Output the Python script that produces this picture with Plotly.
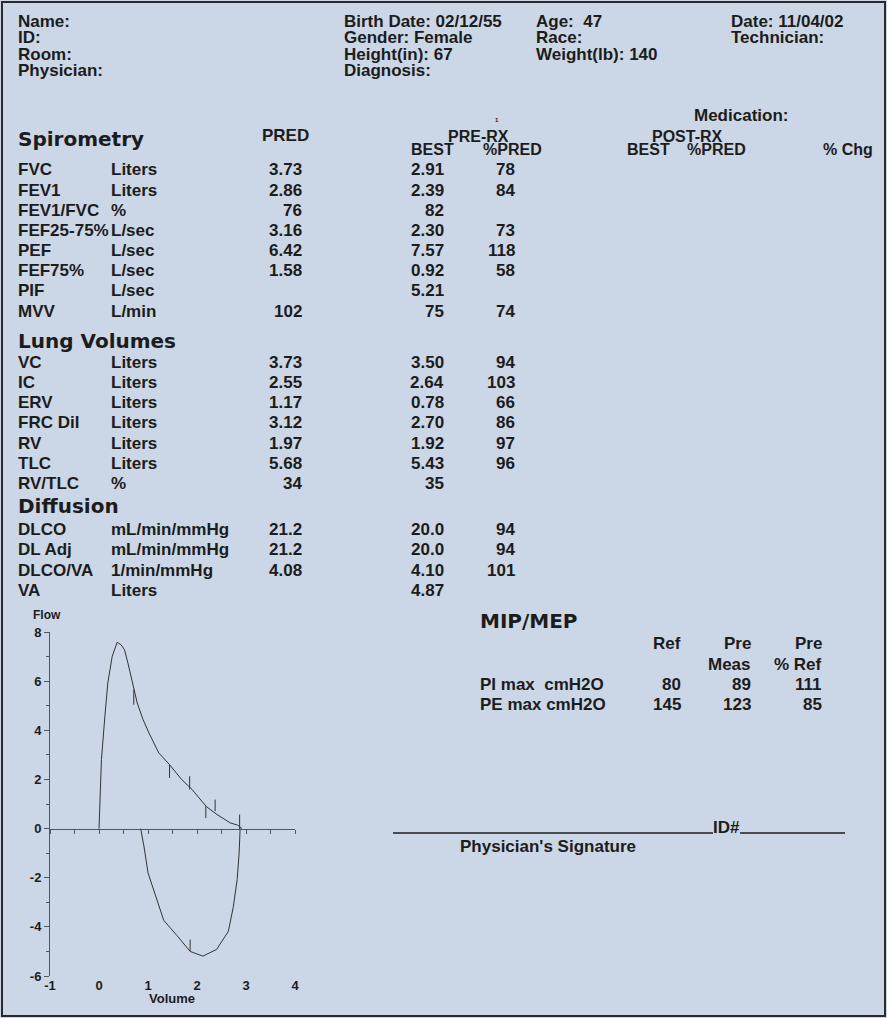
import plotly.graph_objects as go

# ── Page / style ──────────────────────────────────────────────────────────────
W, H = 887, 1018
BG = "#CBD7E6"
INK = "#1C1C1C"
AXIS = "#555555"
BODY = "Liberation Sans, Arial, sans-serif"
HEAVY = "DejaVu Sans, sans-serif"
NB = "\u00a0"
FS = 17  # body text size

# ── Patient header ────────────────────────────────────────────────────────────
hdr_col1 = ["Name:", "ID:", "Room:", "Physician:"]
hdr_col2 = ["Birth Date: 02/12/55", "Gender: Female", "Height(in): 67", "Diagnosis:"]
hdr_col3 = ["Age:" + NB + NB + "47", "Race:", "Weight(lb): 140"]
hdr_col4 = ["Date: 11/04/02", "Technician:"]

# ── Results table ─────────────────────────────────────────────────────────────
spiro_params = ["FVC", "FEV1", "FEV1/FVC", "FEF25-75%", "PEF", "FEF75%", "PIF", "MVV"]
spiro_units = ["Liters", "Liters", "%", "L/sec", "L/sec", "L/sec", "L/sec", "L/min"]
spiro_pred = ["3.73", "2.86", "76", "3.16", "6.42", "1.58", "", "102"]
spiro_best = ["2.91", "2.39", "82", "2.30", "7.57", "0.92", "5.21", "75"]
spiro_pct = ["78", "84", "", "73", "118", "58", "", "74"]

lung_params = ["VC", "IC", "ERV", "FRC Dil", "RV", "TLC", "RV/TLC"]
lung_units = ["Liters", "Liters", "Liters", "Liters", "Liters", "Liters", "%"]
lung_pred = ["3.73", "2.55", "1.17", "3.12", "1.97", "5.68", "34"]
lung_best = ["3.50", "2.64", "0.78", "2.70", "1.92", "5.43", "35"]
lung_pct = ["94", "103", "66", "86", "97", "96", ""]

diff_params = ["DLCO", "DL Adj", "DLCO/VA", "VA"]
diff_units = ["mL/min/mmHg", "mL/min/mmHg", "1/min/mmHg", "Liters"]
diff_pred = ["21.2", "21.2", "4.08", ""]
diff_best = ["20.0", "20.0", "4.10", "4.87"]
diff_pct = ["94", "94", "101", ""]

# ── MIP / MEP ─────────────────────────────────────────────────────────────────
mip_params = ["PI max" + NB + NB + "cmH2O", "PE max cmH2O"]
mip_ref = ["80", "145"]
mip_meas = ["89", "123"]
mip_pct = ["111", "85"]

# ── Flow-volume loop (L, L/sec) ───────────────────────────────────────────────
exp_vol = [0.00, 0.02, 0.05, 0.12, 0.18, 0.27, 0.37, 0.45, 0.52, 0.59, 0.68, 0.78,
           0.90, 1.02, 1.22, 1.44, 1.69, 1.90, 2.10, 2.20, 2.41, 2.68, 2.83, 2.92]
exp_flow = [0.00, 1.18, 2.81, 4.57, 5.93, 7.01, 7.58, 7.48, 7.28, 6.74, 5.93, 5.11,
            4.43, 3.89, 3.08, 2.60, 1.99, 1.59, 1.11, 0.88, 0.57, 0.23, 0.14, 0.00]
insp_vol = [0.85, 0.88, 0.92, 1.00, 1.10, 1.19, 1.32, 1.59, 1.86, 2.12, 2.40, 2.64,
            2.74, 2.82, 2.86, 2.88]
insp_flow = [0.00, -0.30, -0.75, -1.80, -2.40, -2.89, -3.73, -4.35, -5.00, -5.19,
             -4.92, -4.18, -3.20, -2.07, -1.00, 0.00]
# short vertical timing marks on the loop
mark_vol = [0.71, 1.44, 1.85, 2.18, 2.37, 2.87, 1.86]
mark_lo = [5.04, 2.06, 1.59, 0.43, 0.71, -0.04, -4.99]
mark_hi = [5.65, 2.60, 2.13, 0.91, 1.18, 0.57, -4.52]

vol_ticks = [-1, 0, 1, 2, 3, 4]
vol_tick_text = ["-1", "0", "1", "2", "3", "4"]
vol_range = [-1, 4]
flow_ticks = [-6, -4, -2, 0, 2, 4, 6, 8]
flow_tick_text = ["-6", "-4", "-2", "0", "2", "4", "6", "8"]
flow_range = [-6, 8]


def px(x):
    return x / W


def py(y):
    return 1 - y / H


fig = go.Figure()


def txt(x, y, s, size=FS, anchor="left", family=BODY):
    fig.add_annotation(
        x=px(x), y=py(y), xref="paper", yref="paper",
        text=s, showarrow=False, xanchor=anchor, yanchor="middle",
        borderpad=0, font=dict(family=family, size=size, color=INK, weight="bold"),
    )


# header block
for col_x, col in [(17, hdr_col1), (343, hdr_col2), (535, hdr_col3), (730, hdr_col4)]:
    for i, s in enumerate(col):
        txt(col_x, 22 + 16 * i, s)

# column headings
txt(693, 116, "Medication:")
txt(494, 120, "1", size=6)
txt(17, 139, "Spirometry", size=20, family=HEAVY)
txt(285, 135, "PRED", anchor="center")
txt(478, 136, "PRE-RX", size=16, anchor="center")
txt(432, 150, "BEST", size=16, anchor="center")
txt(512, 150, "%PRED", size=16, anchor="center")
txt(687, 136, "POST-RX", size=16, anchor="center")
txt(648, 150, "BEST", size=16, anchor="center")
txt(716, 150, "%PRED", size=16, anchor="center")
txt(848, 150, "% Chg", size=16, anchor="center")


def table_rows(y0, step, params, units, pred, best, pct):
    for i in range(len(params)):
        y = y0 + step * i
        txt(17, y, params[i])
        txt(110, y, units[i])
        txt(303, y, pred[i], anchor="right")
        txt(445, y, best[i], anchor="right")
        txt(516, y, pct[i], anchor="right")


table_rows(170, 20.15, spiro_params, spiro_units, spiro_pred, spiro_best, spiro_pct)
txt(17, 341, "Lung Volumes", size=20, family=HEAVY)
table_rows(362, 20.3, lung_params, lung_units, lung_pred, lung_best, lung_pct)
txt(17, 506, "Diffusion", size=20, family=HEAVY)
table_rows(529, 20.5, diff_params, diff_units, diff_pred, diff_best, diff_pct)

# MIP/MEP block
txt(479, 621, "MIP/MEP", size=20, family=HEAVY)
txt(682, 643, "Ref", anchor="right")
txt(752, 643, "Pre", anchor="right")
txt(823, 643, "Pre", anchor="right")
txt(752, 664, "Meas", anchor="right")
txt(823, 664, "% Ref", anchor="right")
for i in range(len(mip_params)):
    y = 684 + 20 * i
    txt(479, y, mip_params[i])
    txt(682, y, mip_ref[i], anchor="right")
    txt(752, y, mip_meas[i], anchor="right")
    txt(823, y, mip_pct[i], anchor="right")

# signature
txt(726, 827, "ID#", anchor="center")
txt(459, 846, "Physician's Signature")
for x0, x1 in [(393, 713), (740, 845)]:
    fig.add_shape(type="line", xref="paper", yref="paper",
                  x0=px(x0), x1=px(x1), y0=py(833), y1=py(833),
                  line=dict(color=INK, width=1.5))

# page border
fig.add_shape(type="rect", xref="paper", yref="paper",
              x0=px(2), x1=px(885), y0=py(1016), y1=py(2),
              line=dict(color="#2A2A2A", width=2))

# ── Flow-volume chart ─────────────────────────────────────────────────────────
fig.add_trace(go.Scatter(x=exp_vol, y=exp_flow, mode="lines",
                         line=dict(color="#333333", width=1), hoverinfo="skip"))
# inspiratory limb drawn on the overlaid axis that carries the zero line
fig.add_trace(go.Scatter(x=insp_vol, y=insp_flow, mode="lines", xaxis="x2",
                         line=dict(color="#333333", width=1), hoverinfo="skip"))
mx, my = [], []
for v, lo, hi in zip(mark_vol, mark_lo, mark_hi):
    mx += [v, v, None]
    my += [lo, hi, None]
fig.add_trace(go.Scatter(x=mx, y=my, mode="lines",
                         line=dict(color="#333333", width=1), hoverinfo="skip"))

x_dom = [px(50), px(295)]
y_dom = [py(976), py(632)]
zero_pos = y_dom[0] + (y_dom[1] - y_dom[0]) * (0 - flow_range[0]) / (flow_range[1] - flow_range[0])
tick_font = dict(family=BODY, size=13, color=INK, weight="bold")

txt(47, 615, "Flow", size=12, anchor="center")
txt(172, 998, "Volume", size=13, anchor="center")

fig.update_layout(
    template="none",
    width=W, height=H,
    margin=dict(l=0, r=0, t=0, b=0),
    paper_bgcolor=BG, plot_bgcolor=BG,
    showlegend=False,
    xaxis=dict(domain=x_dom, range=vol_range, anchor="y", showline=False,
               showgrid=False, zeroline=False, tickvals=vol_ticks,
               ticktext=vol_tick_text, ticks="", tickfont=tick_font,
               fixedrange=True),
    xaxis2=dict(domain=x_dom, range=vol_range, overlaying="x", anchor="free",
                position=zero_pos, showline=True, linecolor=AXIS, linewidth=1,
                ticks="outside", ticklen=4, tickcolor=AXIS, tick0=-1, dtick=0.5,
                showticklabels=False, showgrid=False, zeroline=False,
                fixedrange=True),
    yaxis=dict(domain=y_dom, range=flow_range, anchor="x", showline=True,
               linecolor=AXIS, linewidth=1, ticks="outside", ticklen=5,
               tickcolor=AXIS, tickvals=flow_ticks, ticktext=flow_tick_text,
               showgrid=False, zeroline=False,
               minor=dict(dtick=1, tick0=0, ticks="outside", ticklen=3, tickcolor=AXIS),
               tickfont=tick_font, fixedrange=True),
)

fig.write_html("out.html", config={"displayModeBar": False},
               post_script="document.body.style.margin='0';")
